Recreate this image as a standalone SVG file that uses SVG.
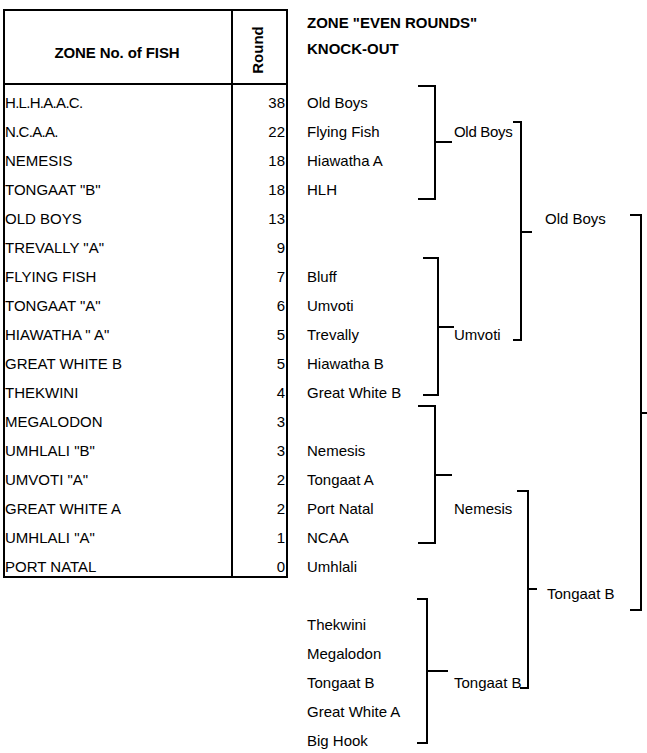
<svg xmlns="http://www.w3.org/2000/svg" width="647" height="753" viewBox="0 0 647 753">
<style>
text{font-family:"Liberation Sans",Arial,sans-serif;font-size:15px;fill:#000}
.b{font-weight:bold}
.n{text-anchor:end}
.ln{stroke:#000;stroke-width:2;fill:none}
</style>
<rect width="647" height="753" fill="#fff"/>
<g id="table">
<path class="ln" d="M4,10 H287 V577 H4 Z M232,10 V577 M4,84 H287"/>
<text class="b" x="117" y="58" text-anchor="middle" letter-spacing="-0.1">ZONE No. of FISH</text>
<text class="b" transform="translate(263,50) rotate(-90)" text-anchor="middle" font-size="14">Round</text>
<g id="names">
<text x="5" y="108" letter-spacing="-0.7">H.L.H.A.A.C.</text>
<text x="5" y="137" letter-spacing="-0.7">N.C.A.A.</text>
<text x="5" y="166">NEMESIS</text>
<text x="5" y="195">TONGAAT  "B"</text>
<text x="5" y="224">OLD BOYS</text>
<text x="5" y="253">TREVALLY  "A"</text>
<text x="5" y="282">FLYING FISH</text>
<text x="5" y="311">TONGAAT "A"</text>
<text x="5" y="340">HIAWATHA  " A"</text>
<text x="5" y="369">GREAT WHITE B</text>
<text x="5" y="398">THEKWINI</text>
<text x="5" y="427">MEGALODON</text>
<text x="5" y="456">UMHLALI  "B"</text>
<text x="5" y="485">UMVOTI  "A"</text>
<text x="5" y="514">GREAT  WHITE  A</text>
<text x="5" y="543">UMHLALI  "A"</text>
<text x="5" y="572">PORT NATAL</text>
</g>
<g id="rounds">
<text class="n" x="285" y="108">38</text>
<text class="n" x="285" y="137">22</text>
<text class="n" x="285" y="166">18</text>
<text class="n" x="285" y="195">18</text>
<text class="n" x="285" y="224">13</text>
<text class="n" x="285" y="253">9</text>
<text class="n" x="285" y="282">7</text>
<text class="n" x="285" y="311">6</text>
<text class="n" x="285" y="340">5</text>
<text class="n" x="285" y="369">5</text>
<text class="n" x="285" y="398">4</text>
<text class="n" x="285" y="427">3</text>
<text class="n" x="285" y="456">3</text>
<text class="n" x="285" y="485">2</text>
<text class="n" x="285" y="514">2</text>
<text class="n" x="285" y="543">1</text>
<text class="n" x="285" y="572">0</text>
</g>
</g>
<g id="title">
<text class="b" x="307" y="28">ZONE "EVEN ROUNDS"</text>
<text class="b" x="307" y="54">KNOCK-OUT</text>
</g>
<g id="round1">
<text x="307" y="108">Old Boys</text>
<text x="307" y="137">Flying Fish</text>
<text x="307" y="166">Hiawatha A</text>
<text x="307" y="195">HLH</text>
<text x="307" y="282">Bluff</text>
<text x="307" y="311">Umvoti</text>
<text x="307" y="340">Trevally</text>
<text x="307" y="369">Hiawatha B</text>
<text x="307" y="398">Great White B</text>
<text x="307" y="456">Nemesis</text>
<text x="307" y="485">Tongaat A</text>
<text x="307" y="514">Port Natal</text>
<text x="307" y="543">NCAA</text>
<text x="307" y="572">Umhlali</text>
<text x="307" y="630">Thekwini</text>
<text x="307" y="659">Megalodon</text>
<text x="307" y="688">Tongaat B</text>
<text x="307" y="717">Great White A</text>
<text x="307" y="746">Big Hook</text>
</g>
<g id="round2">
<text x="454" y="137" letter-spacing="-0.3">Old Boys</text>
<text x="454" y="340">Umvoti</text>
<text x="454" y="514">Nemesis</text>
<text x="454" y="688">Tongaat B</text>
</g>
<g id="round3">
<text x="545" y="224">Old Boys</text>
<text x="547" y="599">Tongaat B</text>
</g>
<g id="connectors" class="ln">
<path class="ln" d="M418,86 H435 V199 H418 M435,142 H452"/>
<path class="ln" d="M513,122 H521 V340 H513 M521,232 H532"/>
<path class="ln" d="M423,258 H438 V395 H423 M438,327 H454"/>
<path class="ln" d="M418,406 H435 V543 H418 M435,475 H452"/>
<path class="ln" d="M517,491 H528 V688 H520 M528,589 H537"/>
<path class="ln" d="M417,599 H427 V743 H417 M427,671 H448"/>
<path class="ln" d="M630,215 H641 V610 H630 M641,413 H647"/>
</g>
</svg>
